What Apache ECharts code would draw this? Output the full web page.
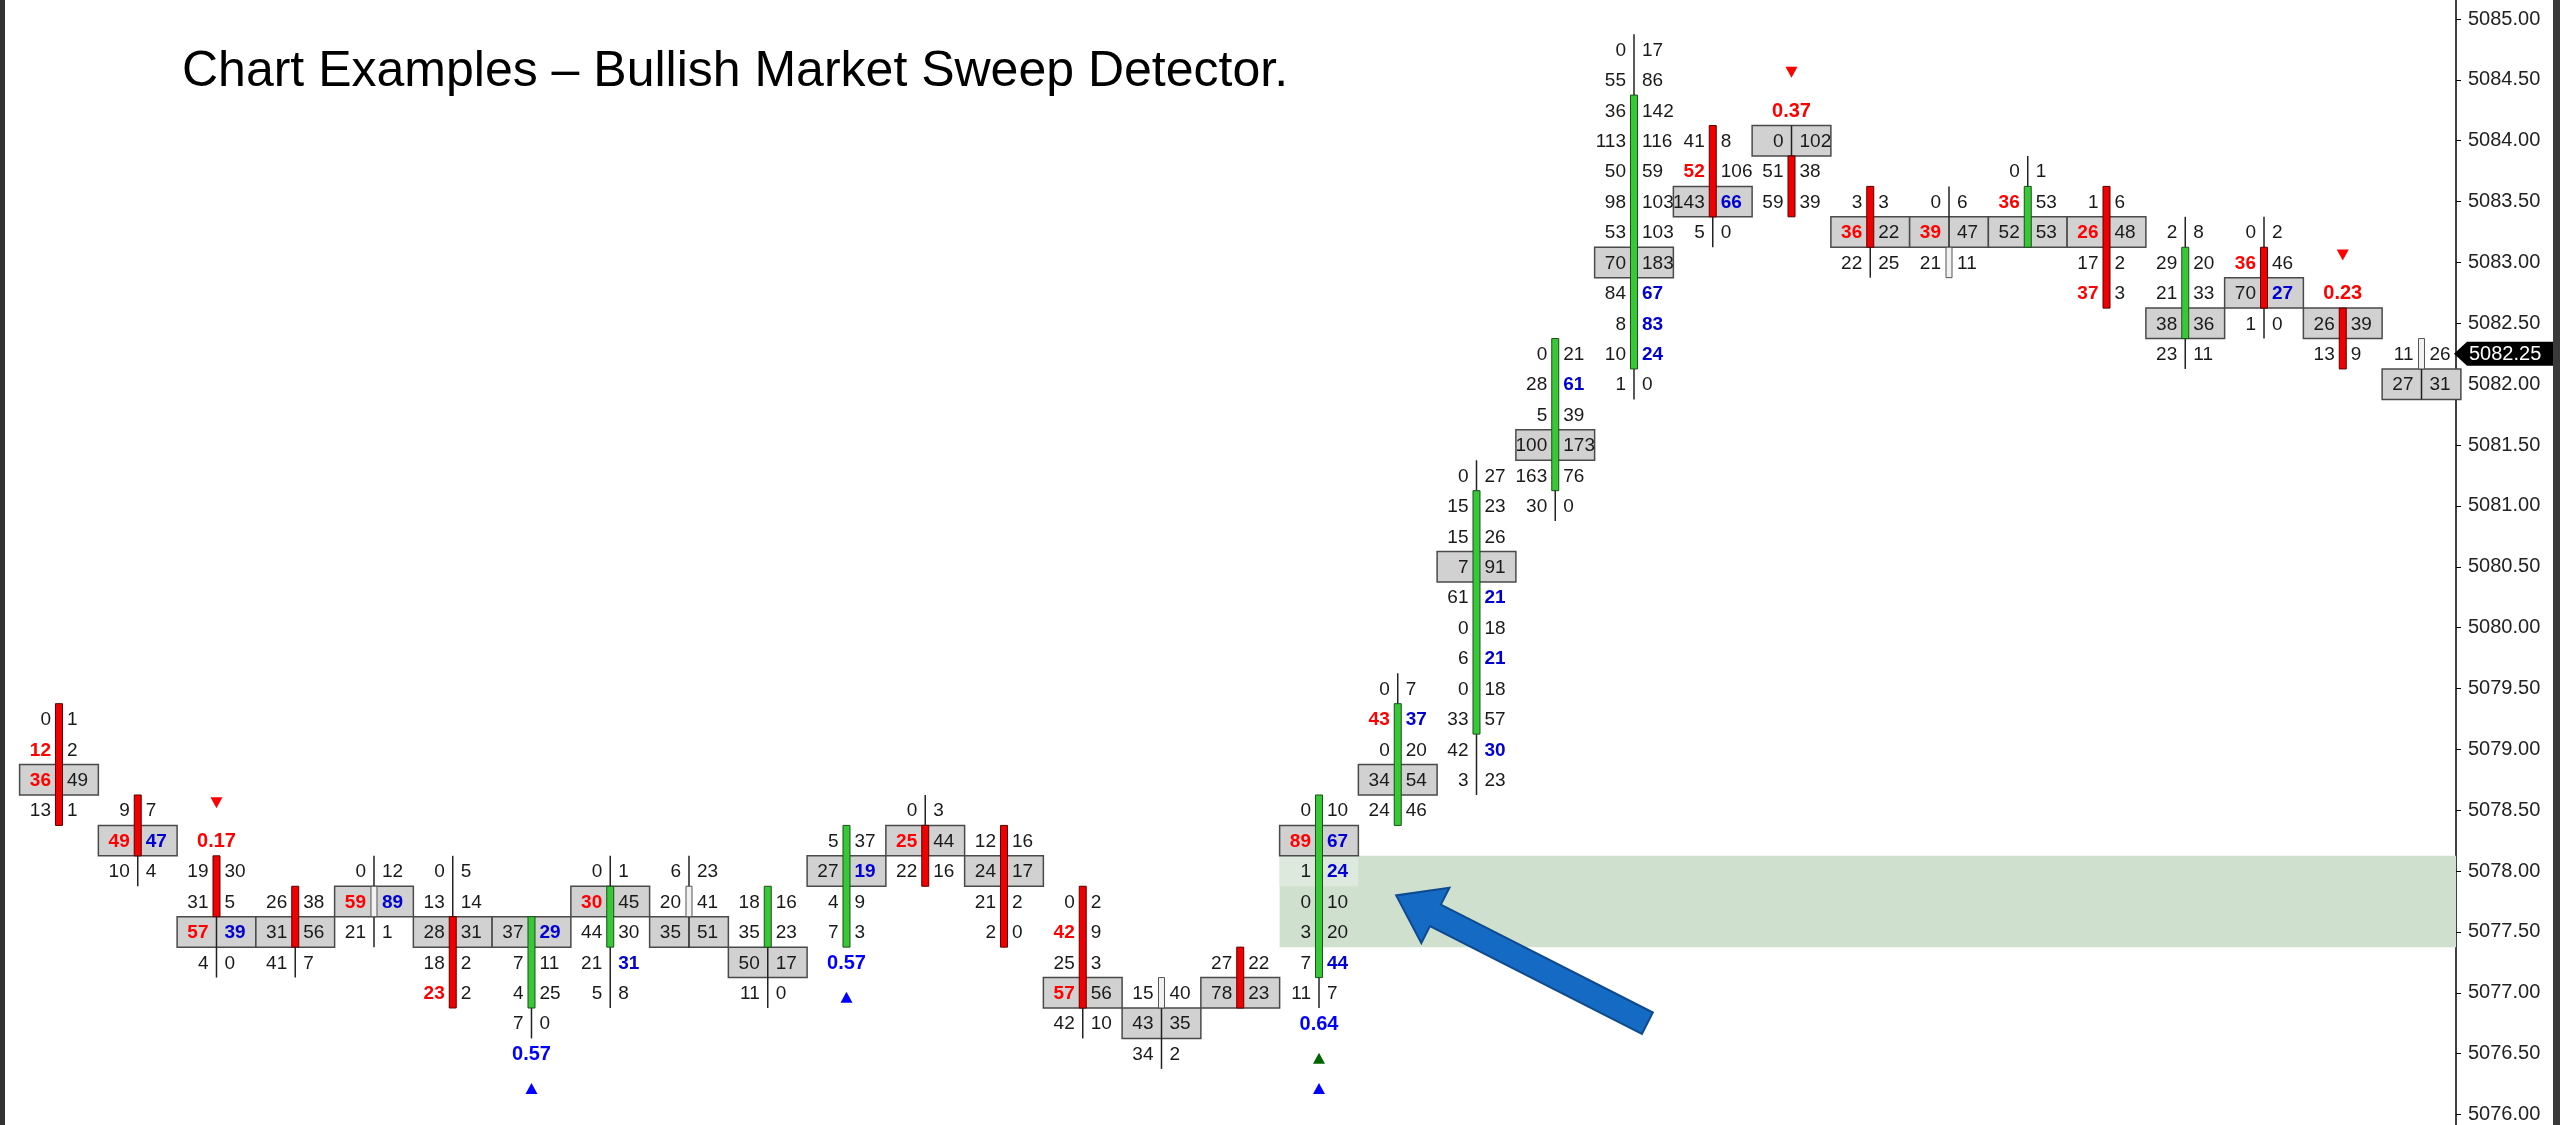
<!DOCTYPE html>
<html>
<head>
<meta charset="utf-8">
<script src="https://cdn.jsdelivr.net/npm/echarts@6/dist/echarts.min.js"></script>
<style>
html,body{margin:0;padding:0;background:#fff;}
#main{width:2560px;height:1125px;}
</style>
</head>
<body>
<div id="main"></div>
<script>
// footprint bars, tick size 0.25; rows are listed top-down from each bar's high
const highPx = [5079.25, 5078.50, 5078.00, 5077.75, 5078.00, 5078.00, 5077.50, 5078.00, 5078.00, 5077.75,
  5078.25, 5078.50, 5078.25, 5077.75, 5077.00, 5077.25, 5078.50, 5079.50, 5081.25, 5082.25,
  5084.75, 5084.00, 5084.00, 5083.50, 5083.50, 5083.75, 5083.50, 5083.25, 5083.25, 5082.50, 5082.25];

const bids = [
  [0,12,36,13], [9,49,10], [19,31,57,4], [26,31,41], [0,59,21], [0,13,28,18,23], [37,7,4,7],
  [0,30,44,21,5], [6,20,35], [18,35,50,11], [5,27,4,7], [0,25,22], [12,24,21,2], [0,42,25,57,42],
  [15,43,34], [27,78], [0,89,1,0,3,7,11], [0,43,0,34,24], [0,15,15,7,61,0,6,0,33,42,3],
  [0,28,5,100,163,30], [0,55,36,113,50,98,53,70,84,8,10,1], [41,52,143,5], [0,51,59], [3,36,22],
  [0,39,21], [0,36,52], [1,26,17,37], [2,29,21,38,23], [0,36,70,1], [26,13], [11,27]
];
const asks = [
  [1,2,49,1], [7,47,4], [30,5,39,0], [38,56,7], [12,89,1], [5,14,31,2,2], [29,11,25,0],
  [1,45,30,31,8], [23,41,51], [16,23,17,0], [37,19,9,3], [3,44,16], [16,17,2,0], [2,9,3,56,10],
  [40,35,2], [22,23], [10,67,24,10,20,44,7], [7,37,20,54,46], [27,23,26,91,21,18,21,18,57,30,23],
  [21,61,39,173,76,0], [17,86,142,116,59,103,103,183,67,83,24,0], [8,106,66,0], [102,38,39], [3,22,25],
  [6,47,11], [1,53,53], [6,48,2,3], [8,20,33,36,11], [2,46,27,0], [39,9], [26,31]
];
// row index of the boxed (point of control) cell
const pocRow = [2,1,2,1,1,2,0,1,2,2,1,1,1,3,1,1,1,3,3,3,7,2,0,1,1,2,1,3,2,0,1];

// candle body (row prices) and kind: d = down, u = up, n = doji
const bodyTop = [5079.25, 5078.50, 5078.00, 5077.75, 5077.75, 5077.50, 5077.50, 5077.75, 5077.75, 5077.75,
  5078.25, 5078.25, 5078.25, 5077.75, 5077.00, 5077.25, 5078.50, 5079.25, 5081.00, 5082.25,
  5084.25, 5084.00, 5083.75, 5083.50, 5083.00, 5083.50, 5083.50, 5083.00, 5083.00, 5082.50, 5082.25];
const bodyBot = [5078.50, 5078.25, 5077.75, 5077.50, 5077.75, 5077.00, 5077.00, 5077.50, 5077.75, 5077.50,
  5077.50, 5078.00, 5077.50, 5077.00, 5077.00, 5077.00, 5077.25, 5078.50, 5079.25, 5081.25,
  5082.25, 5083.50, 5083.50, 5083.25, 5083.00, 5083.25, 5082.75, 5082.50, 5082.75, 5082.25, 5082.25];
const bodyKind = ['d','d','d','d','n','d','u','u','n','u','u','d','d','d','n','d','u','u','u','u',
  'u','d','d','d','n','u','d','u','d','d','n'];

// highlighted cells [bar, row]
const redBid = [[0,1],[0,2],[1,1],[2,2],[4,1],[5,4],[7,1],[11,1],[13,1],[13,3],[16,1],[17,1],
  [21,1],[23,1],[24,1],[25,1],[26,1],[26,3],[28,1]];
const blueAsk = [[1,1],[2,2],[4,1],[6,0],[7,3],[10,1],[16,1],[16,2],[16,5],[17,1],[18,4],[18,6],
  [18,9],[19,1],[20,8],[20,9],[20,10],[21,2],[28,2]];

// sweep signals
const sigBar = [2, 6, 10, 16, 22, 29];
const sigPx = [5078.25, 5076.50, 5077.25, 5076.75, 5084.25, 5082.75];
const sigText = ['0.17', '0.57', '0.57', '0.64', '0.37', '0.23'];
const sigColor = ['#ff0000', '#0000ff', '#0000ff', '#0000ff', '#ff0000', '#ff0000'];
const triBar = [2, 6, 10, 16, 16, 22, 29];
const triPx = [5078.50, 5076.25, 5077.00, 5076.50, 5076.25, 5084.50, 5083.00];
const triColor = ['#ff0000', '#0000ff', '#0000ff', '#006400', '#0000ff', '#ff0000', '#ff0000'];
const triDir = ['dn', 'up', 'up', 'up', 'up', 'dn', 'dn'];

// sweep zone and annotation
const zoneBar = 16;
const zoneHi = 5078.125;
const zoneLo = 5077.375;
const arrowFrom = [20.17, 5076.75];
const arrowTo = [16.98, 5077.80];
const lastPx = 5082.25;

const xMin = -0.749, xMax = 30.438;
const FONT = '"Liberation Sans", Arial, sans-serif';

function isIn(list, b, r) {
  return list.some(p => p[0] === b && p[1] === r);
}

function setAlign(style, h, v) {
  style.align = h; style.textAlign = h;
  style.verticalAlign = v; style.textVerticalAlign = v;
  return style;
}

function renderBar(params, api) {
  const i = params.dataIndex;
  const cellW = api.size([1, 0])[0];
  const rowH = api.size([0, 0.25])[1];
  const cx = api.coord([i, highPx[i]])[0];
  const n = bids[i].length;
  const lowPx = highPx[i] - 0.25 * (n - 1);
  const kids = [];
  // point of control box
  const py = api.coord([i, highPx[i] - 0.25 * pocRow[i]])[1];
  kids.push({type: 'rect', shape: {x: cx - cellW / 2, y: py - rowH / 2, width: cellW, height: rowH},
    style: {fill: '#d1d1d1', stroke: '#4a4a4a', lineWidth: 1.5}});
  // wick
  const yTop = api.coord([i, highPx[i] + 0.125])[1];
  const yBot = api.coord([i, lowPx - 0.125])[1];
  kids.push({type: 'line', shape: {x1: cx, y1: yTop, x2: cx, y2: yBot}, style: {stroke: '#222', lineWidth: 1.5}});
  // body
  const bt = api.coord([i, bodyTop[i] + 0.125])[1];
  const bb = api.coord([i, bodyBot[i] - 0.125])[1];
  const k = bodyKind[i];
  const fill = k === 'd' ? '#f00000' : k === 'u' ? '#37c837' : '#f2f2f2';
  const stroke = k === 'd' ? '#5a0000' : k === 'u' ? '#1d4f1d' : '#555';
  const bw = k === 'n' ? 6 : 7;
  kids.push({type: 'rect', shape: {x: cx - bw / 2, y: bt, width: bw, height: bb - bt},
    style: {fill: fill, stroke: stroke, lineWidth: 1}});
  // bid x ask numbers
  for (let r = 0; r < n; r++) {
    const y = api.coord([i, highPx[i] - 0.25 * r])[1];
    const rb = isIn(redBid, i, r);
    const ba = isIn(blueAsk, i, r);
    kids.push({type: 'text', x: 0, y: 0, style: setAlign({
      text: String(bids[i][r]), x: cx - 8, y: y + 1,
      fill: rb ? '#ff0000' : '#1a1a1a', font: (rb ? 'bold ' : '') + '19px ' + FONT}, 'right', 'middle')});
    kids.push({type: 'text', x: 0, y: 0, style: setAlign({
      text: String(asks[i][r]), x: cx + 8, y: y + 1,
      fill: ba ? '#0000d0' : '#1a1a1a', font: (ba ? 'bold ' : '') + '19px ' + FONT}, 'left', 'middle')});
  }
  return {type: 'group', children: kids};
}

function renderZone(params, api) {
  const p1 = api.coord([zoneBar - 0.5, zoneHi]);
  const p2 = api.coord([xMax, zoneLo]);
  const cellW = api.size([1, 0])[0];
  const rowH = api.size([0, 0.25])[1];
  const y0 = api.coord([zoneBar, 5078.00])[1];
  return {type: 'group', children: [
    {type: 'rect', shape: {x: p1[0], y: p1[1], width: p2[0] - p1[0], height: p2[1] - p1[1]},
      style: {fill: '#cfe1ce'}},
    {type: 'rect', shape: {x: p1[0], y: y0 - rowH / 2, width: cellW, height: rowH},
      style: {fill: '#dde9dc'}}
  ]};
}

function renderSignals(params, api) {
  const kids = [];
  sigBar.forEach((b, j) => {
    const p = api.coord([b, sigPx[j]]);
    kids.push({type: 'text', x: 0, y: 0, style: setAlign({
      text: sigText[j], x: p[0], y: p[1] + 1, fill: sigColor[j], font: 'bold 20px ' + FONT}, 'center', 'middle')});
  });
  triBar.forEach((b, j) => {
    const p = api.coord([b, triPx[j]]);
    let pts;
    if (triDir[j] === 'up') {
      const y = p[1] + 5;
      pts = [[p[0], y - 6], [p[0] - 6, y + 5], [p[0] + 6, y + 5]];
    } else {
      const y = p[1] - 8;
      pts = [[p[0], y + 6], [p[0] - 6, y - 5], [p[0] + 6, y - 5]];
    }
    kids.push({type: 'polygon', shape: {points: pts}, style: {fill: triColor[j]}});
  });
  return {type: 'group', children: kids};
}

function renderArrow(params, api) {
  const s = api.coord(arrowFrom), t = api.coord(arrowTo);
  const dx = t[0] - s[0], dy = t[1] - s[1];
  const len = Math.sqrt(dx * dx + dy * dy);
  const ux = dx / len, uy = dy / len, nx = -uy, ny = ux;
  const hl = 44, hw = 31, sw = 12;
  const bx = t[0] - ux * hl, by = t[1] - uy * hl;
  const pts = [
    [s[0] + nx * sw, s[1] + ny * sw], [bx + nx * sw, by + ny * sw], [bx + nx * hw, by + ny * hw],
    [t[0], t[1]], [bx - nx * hw, by - ny * hw], [bx - nx * sw, by - ny * sw], [s[0] - nx * sw, s[1] - ny * sw]
  ];
  return {type: 'polygon', shape: {points: pts}, style: {fill: '#156bc4', stroke: '#0d4a8f', lineWidth: 2}};
}

function renderLast(params, api) {
  const p = api.coord([xMax, lastPx]);
  const x = p[0] - 2, y = p[1], h = 12;
  return {type: 'group', children: [
    {type: 'polygon', shape: {points: [[x, y], [x + 13, y - h], [2560, y - h], [2560, y + h], [x + 13, y + h]]},
      style: {fill: '#000'}},
    {type: 'text', x: 0, y: 0, style: setAlign({text: lastPx.toFixed(2), x: x + 15, y: y + 1,
      fill: '#fff', font: '20px ' + FONT}, 'left', 'middle')}
  ]};
}

const chart = echarts.init(document.getElementById('main'));
chart.setOption({
  backgroundColor: '#fff',
  animation: false,
  title: {
    text: 'Chart Examples \u2013 Bullish Market Sweep Detector.',
    left: 177, top: 42,
    textStyle: {fontFamily: FONT, fontSize: 50, fontWeight: 'normal', color: '#000'}
  },
  grid: {left: 0, right: 104, top: -41.85, bottom: -50.35, outerBoundsMode: 'none', containLabel: false},
  xAxis: {type: 'value', min: xMin, max: xMax, show: false},
  yAxis: {
    type: 'value', position: 'right', min: 5075.5, max: 5085.5, interval: 0.5,
    axisLine: {show: true, onZero: false, lineStyle: {color: '#000', width: 1.5}},
    axisTick: {show: true, length: 5, lineStyle: {color: '#000'}},
    axisLabel: {fontFamily: FONT, fontSize: 20, color: '#222', margin: 12,
      formatter: v => v.toFixed(2)},
    splitLine: {show: false}
  },
  graphic: [
    {type: 'rect', left: 0, top: 0, shape: {width: 5, height: 1125}, style: {fill: '#333'}, z: 100},
    {type: 'rect', right: 0, top: 0, shape: {width: 7, height: 1125}, style: {fill: '#3a3a3a'}, z: 100}
  ],
  series: [
    {type: 'custom', data: [[zoneBar, zoneHi]], renderItem: renderZone, clip: false, silent: true, z: 1},
    {type: 'custom', data: highPx.map((p, i) => [i, p]), renderItem: renderBar, clip: false, silent: true, z: 2},
    {type: 'custom', data: [[0, 0]], renderItem: renderSignals, clip: false, silent: true, z: 3},
    {type: 'custom', data: [arrowFrom], renderItem: renderArrow, clip: false, silent: true, z: 4},
    {type: 'custom', data: [[xMax, lastPx]], renderItem: renderLast, clip: false, silent: true, z: 5}
  ]
});
</script>
</body>
</html>
